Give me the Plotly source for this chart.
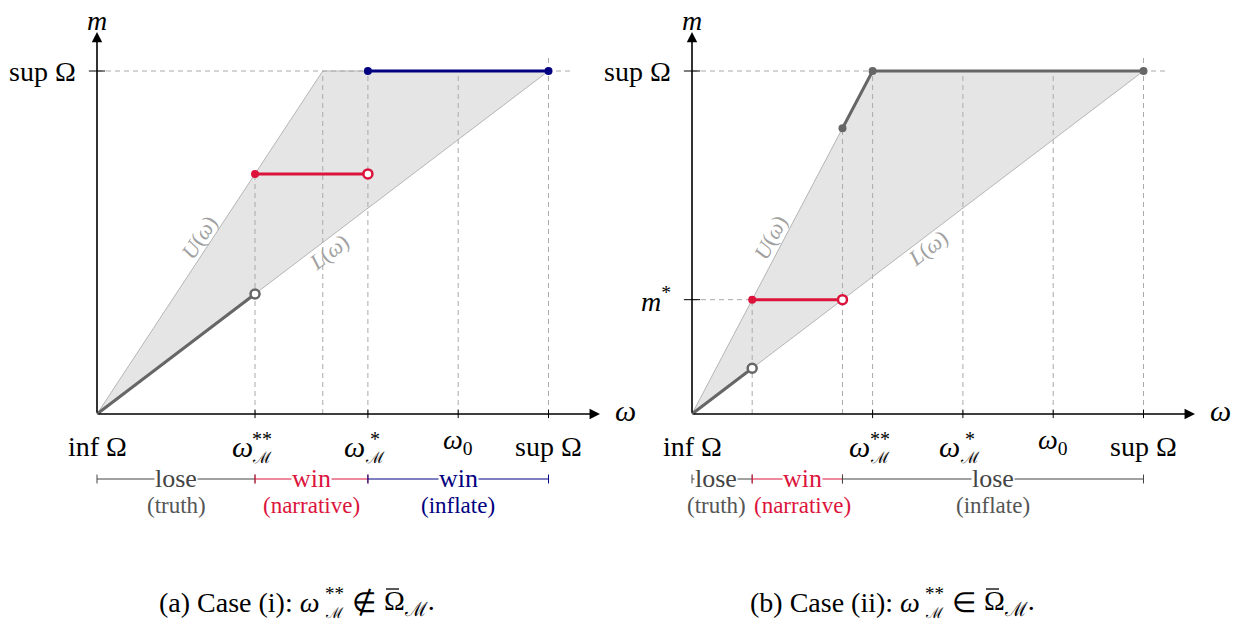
import plotly.graph_objects as go

# ---------------- data ----------------
# Panel (a)
a_U_x = [0.0, 0.5, 1.0]          # upper bound U(w) corners
a_U_y = [0.0, 1.0, 1.0]
a_L_x = [0.0, 1.0]               # lower bound L(w)
a_L_y = [0.0, 1.0]
a_truth_x = [0.0, 0.35]
a_truth_y = [0.0, 0.35]
a_narr_x = [0.35, 0.6]
a_narr_y = [0.7, 0.7]
a_infl_x = [0.6, 1.0]
a_infl_y = [1.0, 1.0]
a_vlines_x = [0.35, 0.5, 0.6, 0.8, 1.0]
a_vlines_top = [0.7, 1.0, 1.0, 1.0, 1.04]
a_tick_x = [0.0, 0.35, 0.6, 0.8, 1.0]
a_tick_kind = ["inf", "ss", "s", "0", "sup"]
a_seg_x = [0.0, 0.35, 0.6, 1.0]
a_seg_top = ["lose", "win", "win"]
a_seg_bot = ["(truth)", "(narrative)", "(inflate)"]
a_seg_col = ["#444444", "#dc143c", "#000080"]
a_seg_shift = [0, 0, 0]

# Panel (b)
b_U_x = [0.0, 0.4, 1.0]
b_U_y = [0.0, 1.0, 1.0]
b_L_x = [0.0, 1.0]
b_L_y = [0.0, 1.0]
b_truth_x = [0.0, 0.1333]
b_truth_y = [0.0, 0.1333]
b_narr_x = [0.1333, 0.3333]
b_narr_y = [0.3333, 0.3333]
b_infl_x = [0.3333, 0.4, 1.0]
b_infl_y = [0.8333, 1.0, 1.0]
b_vlines_x = [0.1333, 0.3333, 0.4, 0.6, 0.8, 1.0]
b_vlines_top = [0.3333, 0.8333, 1.0, 1.0, 1.0, 1.04]
b_tick_x = [0.0, 0.4, 0.6, 0.8, 1.0]
b_tick_kind = ["inf", "ss", "s", "0", "sup"]
b_seg_x = [0.0, 0.1333, 0.3333, 1.0]
b_seg_top = ["lose", "win", "lose"]
b_seg_bot = ["(truth)", "(narrative)", "(inflate)"]
b_seg_col = ["#444444", "#dc143c", "#444444"]
b_seg_shift = [-6, 5, 0]
b_mstar = 0.3333

cap_a = ["(a) Case (i): <i>ω</i>", "∉", "Ω<sub>ℳ</sub>."]
cap_b = ["(b) Case (ii): <i>ω</i>", "∈", "Ω<sub>ℳ</sub>."]

# ---------------- styling ----------------
W, H = 1246, 626
SX, SY = 451.5, 343.0
ORIG = [(97, 414), (692, 414)]
FONT = "Liberation Serif"
RED, BLUE, GREY = "#dc143c", "#000080", "#666666"
DASH = "#aaaaaa"

fig = go.Figure()

def rng(ox, oy, d0, d1):
    p0, p1 = d0 * W, d1 * W
    return [(p0 - ox) / SX, (p1 - ox) / SX], [-(H - oy) / SY, oy / SY]

xr1, yr1 = rng(*ORIG[0], 0.0, 0.5)
xr2, yr2 = rng(*ORIG[1], 0.5, 1.0)
ax_common = dict(visible=False, showgrid=False, zeroline=False, fixedrange=True)
fig.update_layout(
    width=W, height=H, margin=dict(l=0, r=0, t=0, b=0),
    plot_bgcolor="white", paper_bgcolor="white", showlegend=False,
    xaxis=dict(domain=[0, 0.5], range=xr1, **ax_common),
    yaxis=dict(domain=[0, 1], range=yr1, **ax_common),
    xaxis2=dict(domain=[0.5, 1.0], range=xr2, **ax_common),
    yaxis2=dict(domain=[0, 1], range=yr2, anchor="x2", **ax_common),
)

annotations = []
shapes = []

def txt(x, y, xref, yref, text, size, color="black", **kw):
    d = dict(x=x, y=y, xref=xref, yref=yref, text=text, showarrow=False,
             font=dict(family=FONT, size=size, color=color))
    d.setdefault("xanchor", "center")
    d.setdefault("yanchor", "middle")
    d.update(kw)
    annotations.append(d)

def line(xa, ya, xs, ys, color, width, dash=None, mode="lines", marker=None):
    ln = dict(color=color, width=width)
    if dash:
        ln["dash"] = dash
    fig.add_trace(go.Scatter(x=xs, y=ys, xaxis=xa, yaxis=ya, mode=mode, line=ln,
                             marker=marker, hoverinfo="skip"))

def omega_label(x, xref, yref, kind):
    yy = -0.096
    if kind == "inf":
        txt(x, yy, xref, yref, "inf Ω", 28)
    elif kind == "sup":
        txt(x, yy, xref, yref, "sup Ω", 28)
    elif kind == "0":
        txt(x, yy, xref, yref, "<i>ω</i><sub>0</sub>", 28, yshift=5)
    else:
        stars = "**" if kind == "ss" else "*"
        txt(x, yy, xref, yref, "<i>ω</i>", 30, xshift=-13, yshift=0)
        txt(x, yy, xref, yref, stars, 20, xshift=7, yshift=8)
        txt(x, yy, xref, yref, "ℳ", 16, xshift=7, yshift=-11)

def panel(xa, ya, Ux, Uy, Lx, Ly, vx, vtop, tx, tkind, truth, narr, infl, infl_col,
          seg_x, seg_top, seg_bot, seg_col, seg_shift, Uangle, Upos, Lpos, extra_h=None):
    xref, yref = xa, ya
    px = Ux + Lx[::-1][1:]
    py = Uy + Ly[::-1][1:]
    fig.add_trace(go.Scatter(x=px, y=py, xaxis=xa, yaxis=ya, mode="lines", fill="toself",
                             fillcolor="#e5e5e5", line=dict(color="#b5b5b5", width=1), hoverinfo="skip"))
    for x, t in zip(vx, vtop):
        line(xa, ya, [x, x], [0, t], DASH, 1, "5px,4px")
    line(xa, ya, [0, 1.056], [1, 1], DASH, 1, "5px,4px")
    if extra_h is not None:
        line(xa, ya, [0, extra_h[0]], [extra_h[1], extra_h[1]], DASH, 1, "5px,4px")
    for x in tx[1:]:
        line(xa, ya, [x, x], [-0.012, 0.012], "black", 1)
    yt = [1.0] + ([extra_h[1]] if extra_h is not None else [])
    for y in yt:
        line(xa, ya, [-0.018, 0.018], [y, y], "black", 1)
    # truth segment
    line(xa, ya, truth[0], truth[1], GREY, 3)
    line(xa, ya, [truth[0][-1]], [truth[1][-1]], GREY, 0, mode="markers",
         marker=dict(size=9, color="white", line=dict(color=GREY, width=2.5)))
    # inflate segment
    line(xa, ya, infl[0], infl[1], infl_col, 3, mode="lines+markers",
         marker=dict(size=8, color=infl_col))
    # narrative segment
    line(xa, ya, narr[0], narr[1], RED, 3)
    line(xa, ya, [narr[0][0]], [narr[1][0]], RED, 0, mode="markers", marker=dict(size=8, color=RED))
    line(xa, ya, [narr[0][-1]], [narr[1][-1]], RED, 0, mode="markers",
         marker=dict(size=9, color="white", line=dict(color=RED, width=2.5)))
    # outcome brackets
    yb = -0.1895
    for i in range(3):
        x0, x1 = seg_x[i], seg_x[i + 1]
        c = seg_col[i]
        line(xa, ya, [x0, x1], [yb, yb], c, 1)
        for xe in (x0, x1):
            line(xa, ya, [xe, xe], [yb - 0.013, yb + 0.013], c, 1)
    for i in range(3):
        xm = (seg_x[i] + seg_x[i + 1]) / 2
        c2 = seg_col[i] if seg_col[i] != "#444444" else "#555555"
        txt(xm, yb, xref, yref, seg_top[i], 26, seg_col[i], bgcolor="white", borderpad=0,
            xshift=seg_shift[i], yshift=1)
        txt(xm, -0.268, xref, yref, seg_bot[i], 23, c2, xshift=seg_shift[i])
    # axis arrows
    for (hx, hy) in [(1.114, 0), (0, 1.114)]:
        annotations.append(dict(x=hx, y=hy, ax=0, ay=0, xref=xref, yref=yref, axref=xref, ayref=yref,
                                showarrow=True, arrowhead=2, arrowsize=1.3, arrowwidth=1.6,
                                arrowcolor="black", text=""))
    txt(1.143, 0, xref, yref, "<i>ω</i>", 30, xanchor="left", yshift=4)
    txt(0, 1.198, xref, yref, "<i>m</i>", 28, yanchor="top")
    for x, k in zip(tx, tkind):
        omega_label(x, xref, yref, k)
    txt(-0.042, 1.0, xref, yref, "sup Ω", 28, xanchor="right")
    if extra_h is not None:
        txt(-0.042, extra_h[1], xref, yref, "<i>m</i><sup>*</sup>", 28, xanchor="right")
    txt(Upos[0], Upos[1], xref, yref, "<i>U</i>(<i>ω</i>)", 22, "#a0a0a0", textangle=-Uangle)
    txt(Lpos[0], Lpos[1], xref, yref, "<i>L</i>(<i>ω</i>)", 22, "#a0a0a0", textangle=-37.2)

panel("x", "y", a_U_x, a_U_y, a_L_x, a_L_y, a_vlines_x, a_vlines_top, a_tick_x, a_tick_kind,
      (a_truth_x, a_truth_y), (a_narr_x, a_narr_y), (a_infl_x, a_infl_y), BLUE,
      a_seg_x, a_seg_top, a_seg_bot, a_seg_col, a_seg_shift, 56.7, (0.226, 0.516), (0.512, 0.472))
panel("x2", "y2", b_U_x, b_U_y, b_L_x, b_L_y, b_vlines_x, b_vlines_top, b_tick_x, b_tick_kind,
      (b_truth_x, b_truth_y), (b_narr_x, b_narr_y), (b_infl_x, b_infl_y), GREY,
      b_seg_x, b_seg_top, b_seg_bot, b_seg_col, b_seg_shift, 62.2, (0.173, 0.516), (0.5205, 0.4839),
      extra_h=(b_narr_x[0], b_mstar))

# captions: text up to omega, stacked super/subscript, relation, Omega with bar
def caption(parts, xw, ypix):
    y = 1 - ypix / H
    P = lambda px: px / W
    txt(P(xw), y, "paper", "paper", parts[0], 28, xanchor="right")
    txt(P(xw + 1), y, "paper", "paper", "**", 19, xanchor="left", yshift=9)
    txt(P(xw + 1), y, "paper", "paper", "ℳ", 15, xanchor="left", yshift=-11)
    txt(P(xw + 28), y, "paper", "paper", parts[1], 28, xanchor="left")
    txt(P(xw + 60), y, "paper", "paper", parts[2], 28, xanchor="left")
    # macron over Omega
    shapes.append(dict(type="line", xref="paper", yref="paper",
                       x0=P(xw + 64), x1=P(xw + 77), y0=1 - 589 / H, y1=1 - 589 / H,
                       line=dict(color="black", width=1.3)))

caption(cap_a, 322, 602)
caption(cap_b, 922, 602)

fig.update_layout(annotations=annotations, shapes=shapes)
fig.write_html("out.html", config={"displayModeBar": False},
               post_script="document.body.style.margin='0';")
